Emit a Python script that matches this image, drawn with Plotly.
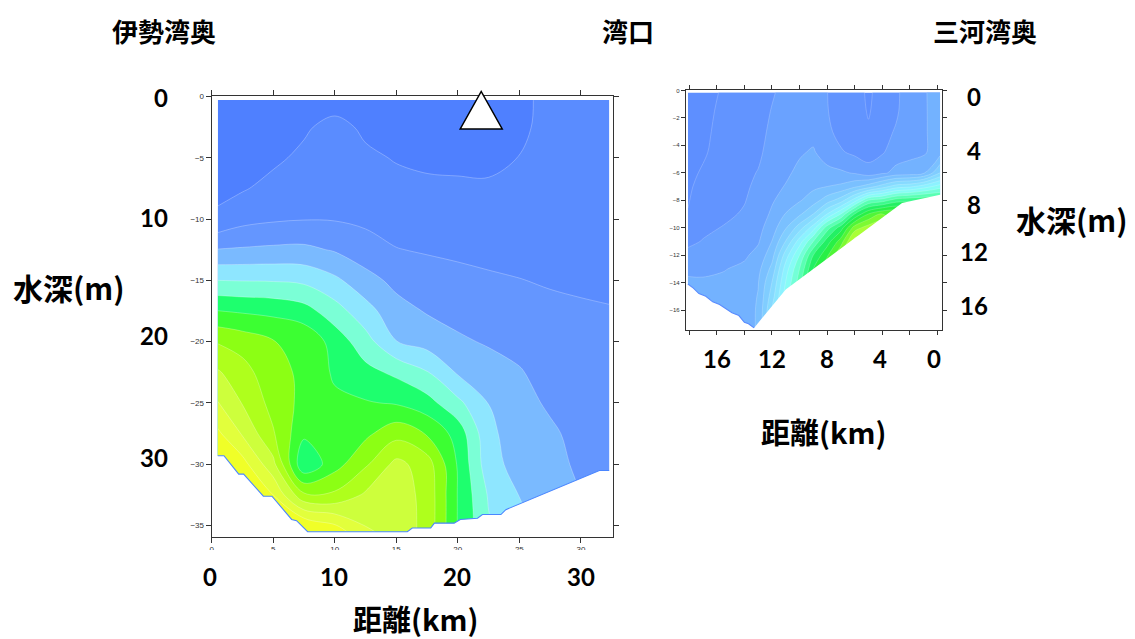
import plotly.graph_objects as go

# ---------------- data: left section (伊勢湾奥 -> 湾口) ----------------
left_dist_km = [0.5, 2.5, 5, 7.5, 10, 12.5, 15, 17.5, 20, 22.5, 25, 27.5, 30, 32.3]
left_depth_m = [0.3, 2.5, 5, 7.5, 10, 12.5, 15, 17.5, 20, 22.5, 25, 27.5, 30, 32.5, 35, 35.7]
# one list per distance column, values from surface to bottom (contour level index)
left_cols = [
    [0.0, 0.26, 0.51, 0.77, 1.17, 3.04, 5.0, 7.02, 8.92, 10.11, 11.05, 12.2, 13.2, 14.2, 15.2, 15.6],
    [0.0, 0.30, 0.61, 0.91, 1.67, 3.11, 4.96, 6.88, 8.58, 9.39, 9.95, 10.9, 12.4, 13.2, 14.1, 14.6],
    [0.0, 0.41, 0.81, 1.30, 1.87, 3.19, 4.93, 6.75, 8.03, 8.34, 8.65, 9.1, 10.3, 12.0, 13.5, 14.0],
    [0.3, 0.85, 1.21, 1.58, 1.96, 3.22, 4.79, 6.4, 7.8, 7.8, 7.7, 7.2, 6.1, 9.2, 12.9, 13.5],
    [0.5, 1.35, 1.5, 1.7, 1.94, 2.91, 4.21, 5.43, 6.6, 6.85, 7.2, 7.5, 7.6, 9.2, 12.1, 12.7],
    [0.3, 0.8, 1.19, 1.5, 1.81, 2.4, 3.38, 4.38, 5.4, 6.31, 7.08, 7.78, 8.85, 10.16, 10.97, 11.3],
    [0.1, 0.5, 0.93, 1.3, 1.66, 2.03, 2.72, 3.38, 4.02, 5.79, 6.91, 8.64, 10.3, 10.5, 10.6, 10.6],
    [0.1, 0.4, 0.8, 1.19, 1.55, 1.92, 2.4, 2.92, 3.6, 5.06, 6.38, 7.92, 9.5, 9.7, 9.7, 9.7],
    [0.1, 0.4, 0.78, 1.15, 1.49, 1.84, 2.24, 2.68, 3.15, 3.88, 5.25, 6.6, 6.9, 6.95, 6.95, 6.95],
    [0.1, 0.4, 0.77, 1.13, 1.45, 1.78, 2.11, 2.49, 2.9, 3.42, 3.98, 4.25, 4.4, 4.9, 5.1, 5.1],
    [0.75, 0.78, 1.02, 1.25, 1.5, 1.75, 2.02, 2.37, 2.72, 3.07, 3.3, 3.45, 3.6, 3.98, 4.2, 4.3],
    [1.3, 1.35, 1.4, 1.48, 1.6, 1.75, 1.93, 2.17, 2.42, 2.65, 2.87, 3.15, 3.35, 3.55, 3.7, 3.7],
    [1.15, 1.22, 1.3, 1.4, 1.52, 1.68, 1.87, 2.1, 2.3, 2.45, 2.6, 2.72, 2.8, 3.0, 3.1, 3.1],
    [1.15, 1.2, 1.27, 1.36, 1.47, 1.62, 1.82, 2.05, 2.2, 2.3, 2.4, 2.5, 2.6, 2.65, 2.7, 2.7],
]
left_bottom_km = [0.5, 1.0, 2.2, 2.6, 4.2, 4.9, 6.5, 6.9, 7.8, 15.9, 16.3, 17.8, 18.1, 19.7,
                  20.2, 21.6, 22.0, 23.5, 23.9, 25.1, 26.2, 27.3, 28.1, 28.9, 29.9, 30.8, 31.5, 32.3]
left_bottom_m = [29.3, 29.3, 30.8, 30.8, 32.6, 32.6, 34.5, 34.6, 35.5, 35.5, 35.2, 35.2, 34.8, 34.8,
                 34.5, 34.4, 34.1, 34.1, 33.7, 33.2, 32.7, 32.3, 31.9, 31.6, 31.2, 30.8, 30.5, 30.5]
station_km = 21.9
left_colors = ["#4f80ff", "#5a8cff", "#6496ff", "#7abaff", "#8ee6ff", "#7bffd6", "#1eff6e",
               "#3cff32", "#8cff14", "#afff1c", "#cdff3c", "#e2ff3c", "#f0ff28"]

# ---------------- data: right section (湾口 -> 三河湾奥) ----------------
right_dist_km = [-0.2, 1, 2, 3, 4, 5, 6, 7, 8, 9, 10, 11, 12, 13, 14, 15.5, 17, 18.1]
right_depth_m = [0.15, 1.5, 3, 4.5, 6, 7, 8, 9, 10, 11, 12, 13, 14, 15, 16, 17.35]
right_cols = [
    [3.2, 3.25, 3.35, 3.6, 6.0, 9.5, 13.0, 14.0, 14.0, 14.0, 14.0, 14.0, 14.0, 14.0, 14.0, 14.0],
    [2.95, 2.93, 2.9, 2.85, 3.8, 8.5, 13.0, 14.5, 14.5, 14.5, 14.5, 14.5, 14.5, 14.5, 14.5, 14.5],
    [2.55, 2.6, 2.68, 2.75, 3.4, 7.8, 12.8, 15.0, 15.0, 15.0, 15.0, 15.0, 15.0, 15.0, 15.0, 15.0],
    [1.8, 1.85, 2.1, 2.5, 3.3, 7.5, 12.5, 16.0, 16.0, 16.0, 16.0, 16.0, 16.0, 16.0, 16.0, 16.0],
    [1.5, 1.55, 1.65, 1.9, 2.8, 6.5, 11.5, 16.0, 18.0, 18.0, 18.0, 18.0, 18.0, 18.0, 18.0, 18.0],
    [0.8, 0.9, 1.15, 1.6, 2.4, 5.5, 11.0, 15.0, 17.5, 18.5, 18.5, 18.5, 18.5, 18.5, 18.5, 18.5],
    [1.5, 1.55, 1.65, 1.8, 2.9, 4.8, 8.5, 13.0, 16.5, 18.5, 19.0, 19.0, 19.0, 19.0, 19.0, 19.0],
    [1.5, 1.55, 1.7, 2.1, 3.15, 4.2, 6.5, 10.0, 13.5, 15.5, 17.0, 17.5, 17.5, 17.5, 17.5, 17.5],
    [2.02, 2.05, 2.2, 2.5, 3.3, 4.0, 5.5, 8.0, 11.5, 13.5, 14.8, 16.0, 16.0, 16.0, 16.0, 16.0],
    [2.3, 2.4, 2.7, 3.1, 3.5, 3.8, 4.5, 6.0, 8.5, 11.0, 13.0, 14.0, 15.0, 15.0, 15.0, 15.0],
    [2.4, 2.5, 2.65, 2.9, 3.2, 3.5, 3.9, 4.8, 6.5, 8.5, 10.0, 11.0, 11.5, 12.0, 12.0, 12.0],
    [2.3, 2.4, 2.5, 2.65, 2.85, 3.05, 3.4, 4.05, 4.9, 6.05, 7.5, 8.5, 9.05, 9.5, 9.5, 9.5],
    [1.9, 2.05, 2.2, 2.4, 2.6, 2.75, 2.9, 3.15, 3.5, 4.02, 4.6, 5.3, 6.02, 6.5, 7.05, 7.2],
    [1.5, 1.6, 1.7, 1.8, 2.05, 2.2, 2.35, 2.5, 2.7, 2.9, 3.3, 3.7, 3.95, 4.05, 4.1, 4.1],
    [1.3, 1.4, 1.5, 1.6, 1.75, 1.85, 1.95, 2.1, 2.4, 2.65, 2.85, 3.2, 3.4, 3.5, 3.6, 3.6],
    [1.1, 1.2, 1.3, 1.4, 1.5, 1.6, 1.7, 1.8, 2.05, 2.3, 2.55, 2.95, 3.2, 3.3, 3.4, 3.4],
    [0.7, 0.75, 0.8, 0.88, 1.1, 1.3, 1.5, 1.65, 1.8, 2.05, 2.4, 2.85, 3.1, 3.3, 3.4, 3.4],
    [0.5, 0.55, 0.6, 0.68, 0.78, 0.85, 0.93, 1.05, 1.3, 1.8, 2.25, 2.75, 3.2, 3.3, 3.4, 3.4],
]
right_bottom_km = [-0.2, 2.56, 11.0, 13.3, 13.7, 14.0, 14.4, 14.9, 15.35, 15.8, 16.3, 16.8, 17.3, 17.7, 18.1]
right_bottom_m = [7.6, 8.2, 14.5, 17.3, 17.0, 16.9, 16.4, 16.2, 15.9, 15.6, 15.4, 15.0, 14.8, 14.4, 14.1]
right_colors = ["#5e8fff", "#6294ff", "#6aa2ff", "#73b2ff", "#7ac0ff", "#80cdff", "#86daff",
                "#8be6ff", "#8cf2ff", "#87fcf5", "#73ffd7", "#5affb4", "#3cfa8c", "#23f064",
                "#28f046", "#50f537", "#7dfa32", "#aaff37", "#cdff4b"]

# text
titles = ["伊勢湾奥", "湾口", "三河湾奥"]
left_depth_labels = ["0", "10", "20", "30"]
left_dist_labels = ["0", "10", "20", "30"]
right_depth_labels = ["0", "4", "8", "12", "16"]
right_dist_labels = ["16", "12", "8", "4", "0"]
depth_title = "水深(m)"
dist_title = "距離(km)"

# ---------------- figure ----------------
W, H = 1135, 639
def px(x):
    return x / W
def py(y):
    return 1 - y / H

def rows(cols):
    return [[c[i] for c in cols] for i in range(len(cols[0]))]

fig = go.Figure()

n_left = len(left_colors) - 1
fig.add_trace(go.Contour(
    x=left_dist_km, y=[-d for d in left_depth_m], z=rows(left_cols),
    autocontour=False, contours=dict(start=1, end=n_left, size=1, coloring="fill"),
    colorscale=[[k / n_left, c] for k, c in enumerate(left_colors)],
    line=dict(color="rgba(255,255,255,0.45)", width=0.6, smoothing=1),
    showscale=False, hoverinfo="skip", xaxis="x", yaxis="y"))
fig.add_trace(go.Scatter(
    x=[left_bottom_km[0] - 0.6] + left_bottom_km + [left_bottom_km[-1] + 0.6] * 2 + [left_bottom_km[0] - 0.6],
    y=[-left_bottom_m[0]] + [-d for d in left_bottom_m] + [-left_bottom_m[-1], -40, -40],
    fill="toself", fillcolor="white", mode="lines", line=dict(width=0),
    hoverinfo="skip", showlegend=False, xaxis="x", yaxis="y"))
fig.add_trace(go.Scatter(
    x=left_bottom_km, y=[-d for d in left_bottom_m], mode="lines",
    line=dict(color="#4a86ff", width=1.1), hoverinfo="skip", showlegend=False,
    xaxis="x", yaxis="y"))

n_right = len(right_colors) - 1
fig.add_trace(go.Contour(
    x=right_dist_km, y=[-d for d in right_depth_m], z=rows(right_cols),
    autocontour=False, contours=dict(start=1, end=n_right, size=1, coloring="fill"),
    colorscale=[[k / n_right, c] for k, c in enumerate(right_colors)],
    line=dict(color="rgba(255,255,255,0.4)", width=0.5, smoothing=1),
    showscale=False, hoverinfo="skip", xaxis="x2", yaxis="y2"))
fig.add_trace(go.Scatter(
    x=[right_bottom_km[0] - 0.5] + right_bottom_km + [right_bottom_km[-1] + 0.5] * 2 + [right_bottom_km[0] - 0.5],
    y=[-right_bottom_m[0]] + [-d for d in right_bottom_m] + [-right_bottom_m[-1], -20, -20],
    fill="toself", fillcolor="white", mode="lines", line=dict(width=0),
    hoverinfo="skip", showlegend=False, xaxis="x2", yaxis="y2"))
jag = right_bottom_km.index(13.3)
fig.add_trace(go.Scatter(
    x=right_bottom_km[jag:], y=[-d for d in right_bottom_m[jag:]], mode="lines",
    line=dict(color="#5a8cff", width=1.1), hoverinfo="skip", showlegend=False,
    xaxis="x2", yaxis="y2"))

axis_common = dict(showgrid=False, zeroline=False, showline=True, linecolor="#333",
                   linewidth=1, ticks="outside", mirror="ticks", tickcolor="#333")
tick_font = dict(family="Liberation Sans, Arial, sans-serif", color="#333")

big = dict(family="Lato, 'Noto Sans CJK JP', sans-serif", color="black", weight="bold")
cjk = dict(family="'Noto Sans CJK JP', sans-serif", color="black", weight="bold")

annotations = []
def ann(text, x, y, size, font, xanchor="center"):
    annotations.append(dict(text=text, x=px(x), y=py(y), xref="paper", yref="paper",
                            xanchor=xanchor, yanchor="middle", showarrow=False,
                            font=dict(size=size, **font)))

for t, x in zip(titles, [162, 627, 985]):
    ann(t, x, 27, 26, cjk)
for t, y in zip(left_depth_labels, [94.5, 215, 334, 456]):
    ann(t, 168, y, 24, big, xanchor="right")
for t, x in zip(left_dist_labels, [208, 332.5, 456, 580]):
    ann(t, x, 576, 24, big)
for t, y in zip(right_depth_labels, [93.5, 147.5, 201.5, 249.5, 303.5]):
    ann(t, 974, y, 24, big)
for t, x in zip(right_dist_labels, [716, 771, 826, 880, 934]):
    ann(t, x, 357, 24, big)
ann(depth_title, 67, 285, 30, cjk)
ann(depth_title, 1072, 216, 30, cjk)
ann(dist_title, 414, 618, 29, cjk)
ann(dist_title, 823, 430, 29, cjk)

shapes = [
    dict(type="path", xref="x", yref="paper", xsizemode="pixel", ysizemode="pixel",
         xanchor=station_km, yanchor=py(93), path="M -21,-32.5 L 21,-32.5 L 0,5 Z",
         fillcolor="white", line=dict(color="black", width=1.5), layer="above"),
    dict(type="rect", xref="paper", yref="paper", x0=px(190), x1=px(630),
         y0=py(562), y1=py(549.5), fillcolor="white", line=dict(width=0), layer="above"),
]

fig.update_layout(
    width=W, height=H, margin=dict(l=0, r=0, t=0, b=0),
    paper_bgcolor="white", plot_bgcolor="white", showlegend=False,
    xaxis=dict(domain=[px(210), px(612)], range=[0, 32.6], dtick=5, tick0=0, ticklen=5,
               tickfont=dict(size=8, **tick_font), anchor="y", **axis_common),
    yaxis=dict(domain=[py(536), py(93)], range=[-35.9, 0], dtick=5, tick0=0, ticklen=5,
               tickfont=dict(size=8, **tick_font), anchor="x", **axis_common),
    xaxis2=dict(domain=[px(685), px(942)], range=[18.25, -0.36], dtick=2, tick0=0, ticklen=4,
                showticklabels=False, anchor="y2", **axis_common),
    yaxis2=dict(domain=[py(328), py(87)], range=[-17.45, 0], dtick=2, tick0=0, ticklen=4,
                tickfont=dict(size=6, **tick_font), anchor="x2", **axis_common),
    annotations=annotations, shapes=shapes,
)

fig.write_html(
    "out.html",
    config={"displayModeBar": False},
    post_script="document.body.style.margin='0';document.body.style.padding='0';"
                "document.documentElement.style.overflow='hidden';",
)
